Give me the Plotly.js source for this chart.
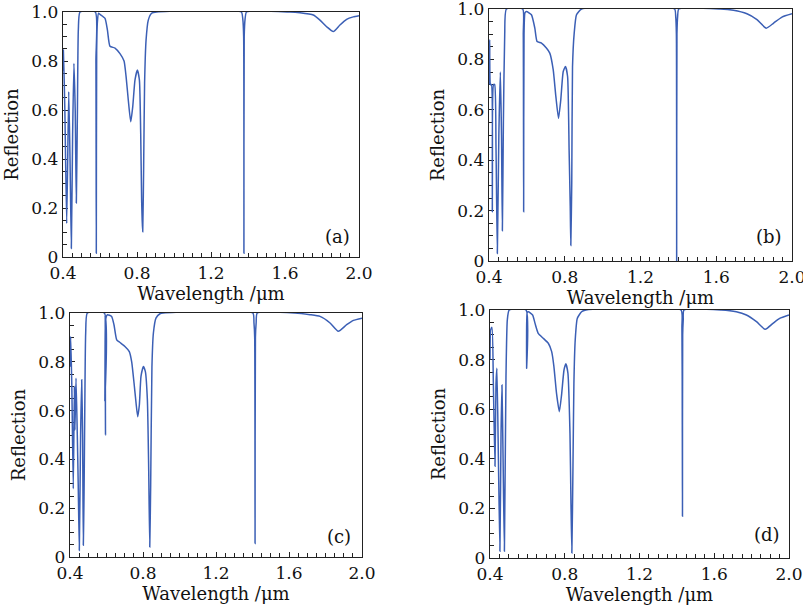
<!DOCTYPE html>
<html>
<head>
<meta charset="utf-8">
<script src="https://cdn.plot.ly/plotly-3.0.1.min.js"></script>
<style>html,body{margin:0;padding:0;background:#fff;} #chart{width:803px;height:610px;}</style>
</head>
<body>
<div id="chart"></div>
<script>
// ---- data ----
const wlA  = [0.400,0.402,0.410,0.420,0.431,0.438,0.445,0.452,0.459,0.466,0.472,0.478,0.483,0.492,0.575,0.578,0.580,0.582,0.586,0.592,0.600,0.627,0.640,0.654,0.681,0.708,0.730,0.741,0.753,0.766,0.777,0.789,0.802,0.813,0.820,0.825,0.828,0.831,0.836,0.841,0.849,0.861,0.879,0.906,1.364,1.372,1.3765,1.378,1.3795,1.384,1.392,1.627,1.681,1.753,1.789,1.825,1.861,1.897,1.933,1.969,2.000];
const refA = [0.760,0.845,0.600,0.137,0.675,0.400,0.035,0.500,0.790,0.600,0.220,0.600,0.930,1.000,1.000,0.800,0.015,0.840,0.960,0.995,0.990,0.974,0.927,0.860,0.853,0.830,0.800,0.736,0.640,0.552,0.614,0.722,0.763,0.722,0.505,0.233,0.150,0.103,0.370,0.710,0.886,0.967,0.995,1.000,1.000,0.970,0.900,0.015,0.900,0.970,1.000,1.000,0.997,0.988,0.967,0.940,0.920,0.947,0.970,0.980,0.985];

const wlB  = [0.400,0.4035,0.408,0.413,0.4176,0.424,0.430,0.437,0.444,0.452,0.460,0.466,0.4706,0.476,0.483,0.492,0.578,0.581,0.583,0.585,0.590,0.598,0.624,0.642,0.654,0.677,0.703,0.721,0.739,0.753,0.767,0.779,0.792,0.804,0.815,0.823,0.829,0.832,0.837,0.841,0.850,0.862,0.889,1.380,1.386,1.3895,1.391,1.3925,1.396,1.402,1.621,1.691,1.762,1.815,1.864,1.903,1.947,2.000];
const refB = [0.700,0.878,0.700,0.700,0.195,0.700,0.700,0.450,0.030,0.500,0.750,0.500,0.120,0.550,0.900,1.000,1.000,0.900,0.195,0.900,0.985,0.990,0.977,0.924,0.871,0.865,0.845,0.825,0.759,0.653,0.566,0.639,0.752,0.772,0.732,0.440,0.215,0.062,0.310,0.770,0.905,0.977,1.000,1.000,0.970,0.900,0.000,0.900,0.970,1.000,1.000,0.995,0.981,0.958,0.924,0.944,0.968,0.981];

const wlC  = [0.400,0.4037,0.410,0.418,0.424,0.427,0.433,0.440,0.445,0.451,0.458,0.464,0.469,0.473,0.477,0.481,0.486,0.495,0.588,0.591,0.593,0.5945,0.597,0.605,0.628,0.641,0.656,0.674,0.701,0.725,0.738,0.751,0.762,0.771,0.780,0.789,0.802,0.813,0.824,0.831,0.837,0.842,0.849,0.857,0.871,0.893,0.911,1.402,1.408,1.412,1.414,1.416,1.420,1.426,1.633,1.715,1.770,1.825,1.870,1.916,1.953,2.000];
const refC = [0.780,0.904,0.700,0.280,0.700,0.520,0.733,0.500,0.300,0.027,0.500,0.726,0.500,0.048,0.260,0.600,0.918,1.000,1.000,0.640,0.990,0.500,0.980,0.993,0.986,0.952,0.890,0.879,0.863,0.842,0.800,0.712,0.630,0.575,0.623,0.740,0.781,0.760,0.644,0.370,0.041,0.288,0.781,0.918,0.979,0.997,1.000,1.000,0.960,0.900,0.055,0.900,0.960,1.000,1.000,0.993,0.986,0.959,0.925,0.952,0.970,0.979];

const wlD  = [0.400,0.4036,0.4107,0.418,0.4267,0.432,0.437,0.445,0.453,0.459,0.464,0.470,0.477,0.4855,0.4927,0.503,0.593,0.596,0.599,0.605,0.628,0.641,0.658,0.685,0.712,0.730,0.742,0.756,0.771,0.783,0.796,0.806,0.817,0.828,0.833,0.838,0.844,0.849,0.856,0.867,0.890,0.913,1.422,1.427,1.429,1.430,1.431,1.434,1.438,1.638,1.718,1.772,1.826,1.873,1.914,1.950,2.000];
const refD = [0.800,0.920,0.930,0.700,0.370,0.700,0.765,0.400,0.027,0.500,0.698,0.400,0.027,0.730,0.960,1.000,1.000,0.765,0.990,0.993,0.980,0.946,0.906,0.886,0.866,0.832,0.772,0.664,0.590,0.658,0.758,0.783,0.745,0.503,0.235,0.020,0.370,0.705,0.879,0.966,0.993,1.000,1.000,0.930,0.540,0.168,0.900,0.960,1.000,1.000,0.993,0.980,0.953,0.922,0.946,0.966,0.980];

const panelLabels = ['(a)','(b)','(c)','(d)'];
const xTickVals = [0.4,0.8,1.2,1.6,2.0];
const xTickText = ['0.4','0.8','1.2','1.6','2.0'];
const yTickVals = [0,0.2,0.4,0.6,0.8,1.0];
const yTickText = ['0','0.2','0.4','0.6','0.8','1.0'];
const xTitle = 'Wavelength /\u03bcm';
const yTitle = 'Reflection';

// ---- layout geometry ----
const W = 803, H = 610;
const boxes = [ // [left, right, top, bottom] in px
  [63, 359, 12, 257],
  [489, 792, 9, 261],
  [70, 362, 313, 557],
  [490, 789, 310, 558]
];
const labelPos = [[0.926,0.082],[0.924,0.099],[0.921,0.086],[0.926,0.093]];
const series = [[wlA,refA],[wlB,refB],[wlC,refC],[wlD,refD]];

const FONT = "'DejaVu Serif', 'Liberation Serif', serif";
const LINE = '#3b5fb5';
const data = [];
const layout = {
  width: W, height: H,
  margin: {l:0, r:0, t:0, b:0},
  paper_bgcolor: '#fff', plot_bgcolor: '#fff',
  showlegend: false,
  font: {family: FONT, size: 17, color: '#111'},
  annotations: []
};

series.forEach((s, i) => {
  const n = i === 0 ? '' : String(i + 1);
  const b = boxes[i];
  data.push({
    x: s[0], y: s[1], xaxis: 'x' + n, yaxis: 'y' + n,
    type: 'scatter', mode: 'lines',
    line: {color: LINE, width: 1.5, shape: 'spline', smoothing: 0.5},
    hoverinfo: 'skip'
  });
  layout['xaxis' + n] = {
    domain: [b[0] / W, b[1] / W],
    anchor: 'y' + n,
    range: [0.4, 2.0],
    tickmode: 'array', tickvals: xTickVals, ticktext: xTickText,
    ticks: 'inside', ticklen: 5, tickwidth: 1, tickcolor: '#222',
    minor: {dtick: 0.05, tick0: 0.4, ticks: 'inside', ticklen: 4, tickwidth: 1, tickcolor: '#222', showgrid: false},
    showline: true, linecolor: '#222', linewidth: 1.3, mirror: true,
    showgrid: false, zeroline: false,
    layer: 'below traces',
    ticklabeloverflow: 'allow',
    tickfont: {family: FONT, size: 17, color: '#111'},
    title: {text: xTitle, font: {family: FONT, size: 18, color: '#111'}, standoff: 2}
  };
  layout['yaxis' + n] = {
    domain: [1 - b[3] / H, 1 - b[2] / H],
    anchor: 'x' + n,
    range: [0, 1.0],
    tickmode: 'array', tickvals: yTickVals, ticktext: yTickText,
    ticks: 'inside', ticklen: 5, tickwidth: 1, tickcolor: '#222',
    minor: {dtick: 0.05, tick0: 0, ticks: 'inside', ticklen: 4, tickwidth: 1, tickcolor: '#222', showgrid: false},
    showline: true, linecolor: '#222', linewidth: 1.3, mirror: true,
    showgrid: false, zeroline: false,
    layer: 'below traces',
    ticklabeloverflow: 'allow',
    tickfont: {family: FONT, size: 17, color: '#111'},
    title: {text: yTitle, font: {family: FONT, size: 18, color: '#111'}, standoff: 8}
  };
  layout.annotations.push({
    text: panelLabels[i], showarrow: false,
    xref: 'x' + n + ' domain', yref: 'y' + n + ' domain',
    x: labelPos[i][0], y: labelPos[i][1], xanchor: 'center', yanchor: 'middle',
    font: {family: FONT, size: 18, color: '#111'}
  });
});

Plotly.newPlot('chart', data, layout, {staticPlot: true, displayModeBar: false});
</script>
</body>
</html>
